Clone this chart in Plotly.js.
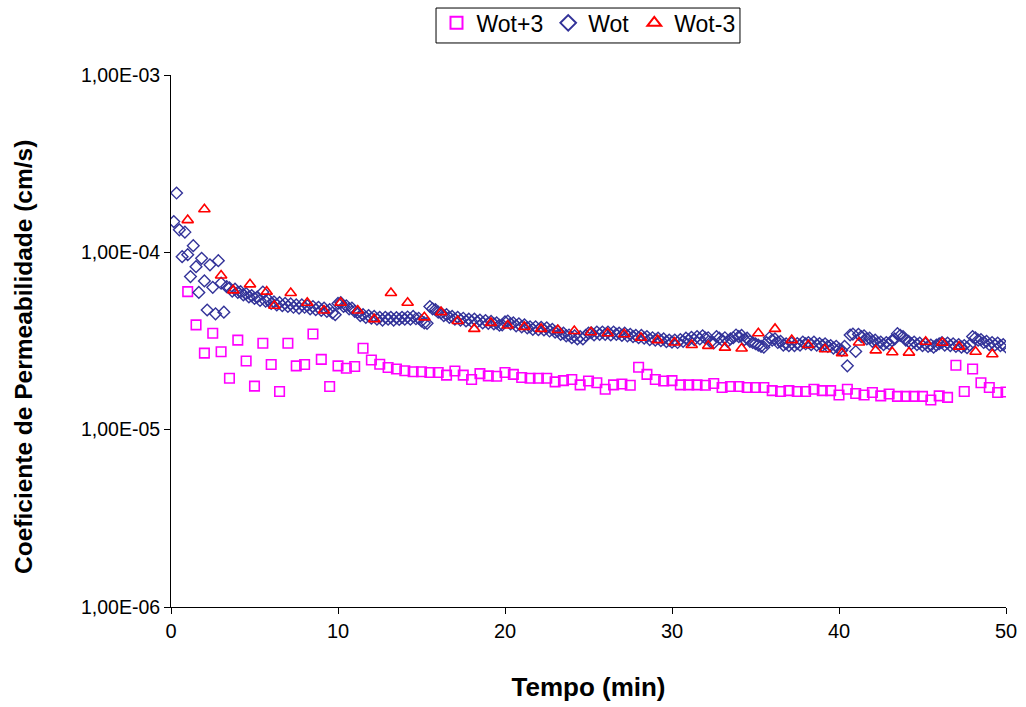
<!DOCTYPE html>
<html>
<head>
<meta charset="utf-8">
<script src="https://cdn.plot.ly/plotly-3.0.1.min.js"></script>
<style>html,body{margin:0;padding:0;background:#fff;}#chart{width:1026px;height:707px;}</style>
</head>
<body>
<div id="chart"></div>
<script>
// Wot+3 : one reading every 0.5 min starting at 1.0 min (cm/s)
const wotPlus3 = [
  6.0e-5,3.9e-5,2.7e-5,3.5e-5,2.75e-5,1.95e-5,3.2e-5,2.44e-5,1.76e-5,3.07e-5,
  2.33e-5,1.64e-5,3.07e-5,2.29e-5,2.33e-5,3.46e-5,2.49e-5,1.75e-5,2.29e-5,
  2.22e-5,2.27e-5,2.88e-5,2.47e-5,2.34e-5,2.24e-5,2.2e-5,2.15e-5,2.12e-5,2.12e-5,
  2.1e-5,2.1e-5,2.03e-5,2.14e-5,2.03e-5,1.92e-5,2.07e-5,2.01e-5,2.0e-5,2.1e-5,
  2.05e-5,1.97e-5,1.95e-5,1.95e-5,1.95e-5,1.86e-5,1.89e-5,1.92e-5,1.79e-5,1.88e-5,
  1.84e-5,1.69e-5,1.79e-5,1.81e-5,1.78e-5,2.25e-5,2.05e-5,1.92e-5,1.88e-5,1.89e-5,
  1.79e-5,1.79e-5,1.79e-5,1.78e-5,1.82e-5,1.73e-5,1.75e-5,1.75e-5,1.73e-5,1.73e-5,
  1.73e-5,1.66e-5,1.64e-5,1.66e-5,1.64e-5,1.64e-5,1.69e-5,1.66e-5,1.66e-5,1.57e-5,
  1.69e-5,1.6e-5,1.57e-5,1.62e-5,1.55e-5,1.59e-5,1.54e-5,1.54e-5,1.54e-5,1.54e-5,
  1.47e-5,1.55e-5,1.52e-5,2.31e-5,1.64e-5,2.2e-5,1.84e-5,1.73e-5,1.62e-5,1.63e-5
];
const wotPlus3Start = 1.0, wotPlus3Step = 0.5;

// Wot : one reading every 10 s (1/6 min) starting at 1/6 min (cm/s), six per minute
const wot = [
  1.49e-4,2.16e-4,1.34e-4,9.45e-5,1.30e-4,9.7e-5,
  7.3e-5,1.09e-4,8.3e-5,5.94e-5,9.25e-5,6.9e-5,
  4.73e-5,8.5e-5,6.35e-5,4.5e-5,8.97e-5,6.7e-5,
  4.6e-5,6.4e-5,6.3e-5,6.05e-5,6.2e-5,5.95e-5,
  6.0e-5,5.75e-5,5.85e-5,5.6e-5,5.7e-5,5.5e-5,
  5.6e-5,5.35e-5,5.97e-5,5.3e-5,5.4e-5,5.15e-5,
  5.25e-5,5.05e-5,5.2e-5,5.0e-5,5.15e-5,4.95e-5,
  5.12e-5,4.9e-5,5.05e-5,4.85e-5,5.05e-5,4.9e-5,
  5.0e-5,4.8e-5,4.95e-5,4.75e-5,4.9e-5,4.7e-5,
  4.85e-5,4.65e-5,4.75e-5,4.55e-5,4.45e-5,5.15e-5,
  5.2e-5,4.95e-5,5.0e-5,4.8e-5,4.85e-5,4.65e-5,
  4.6e-5,4.4e-5,4.45e-5,4.3e-5,4.4e-5,4.25e-5,
  4.35e-5,4.2e-5,4.3e-5,4.15e-5,4.3e-5,4.2e-5,
  4.3e-5,4.15e-5,4.28e-5,4.18e-5,4.3e-5,4.2e-5,
  4.32e-5,4.2e-5,4.35e-5,4.22e-5,4.25e-5,4.1e-5,
  4.0e-5,3.98e-5,4.95e-5,4.8e-5,4.75e-5,4.6e-5,
  4.55e-5,4.4e-5,4.45e-5,4.3e-5,4.35e-5,4.2e-5,
  4.3e-5,4.15e-5,4.25e-5,4.1e-5,4.2e-5,4.08e-5,
  4.2e-5,4.05e-5,4.15e-5,4.0e-5,4.12e-5,3.98e-5,
  4.08e-5,3.95e-5,4.0e-5,3.88e-5,3.9e-5,4.05e-5,
  4.1e-5,3.95e-5,4.0e-5,3.85e-5,3.95e-5,3.8e-5,
  3.9e-5,3.75e-5,3.8e-5,3.68e-5,3.8e-5,3.66e-5,
  3.78e-5,3.65e-5,3.75e-5,3.6e-5,3.68e-5,3.55e-5,
  3.6e-5,3.45e-5,3.5e-5,3.38e-5,3.42e-5,3.3e-5,
  3.38e-5,3.25e-5,3.35e-5,3.25e-5,3.4e-5,3.5e-5,
  3.52e-5,3.42e-5,3.55e-5,3.45e-5,3.55e-5,3.45e-5,
  3.55e-5,3.42e-5,3.55e-5,3.45e-5,3.5e-5,3.4e-5,
  3.5e-5,3.38e-5,3.45e-5,3.35e-5,3.4e-5,3.3e-5,
  3.4e-5,3.28e-5,3.35e-5,3.22e-5,3.3e-5,3.2e-5,
  3.28e-5,3.18e-5,3.25e-5,3.14e-5,3.2e-5,3.12e-5,
  3.2e-5,3.1e-5,3.22e-5,3.15e-5,3.28e-5,3.2e-5,
  3.32e-5,3.22e-5,3.35e-5,3.25e-5,3.38e-5,3.28e-5,
  3.3e-5,3.12e-5,3.08e-5,3.35e-5,3.28e-5,3.2e-5,
  3.3e-5,3.15e-5,3.25e-5,3.3e-5,3.42e-5,3.35e-5,
  3.4e-5,3.22e-5,3.28e-5,3.15e-5,3.1e-5,3.05e-5,
  3.0e-5,2.95e-5,2.92e-5,3.1e-5,3.3e-5,3.2e-5,
  3.25e-5,3.1e-5,3.15e-5,3.0e-5,3.05e-5,2.98e-5,
  3.08e-5,2.98e-5,3.06e-5,3.0e-5,3.12e-5,3.05e-5,
  3.1e-5,3.02e-5,3.12e-5,3.0e-5,3.06e-5,2.98e-5,
  3.05e-5,2.95e-5,2.98e-5,2.88e-5,2.95e-5,2.85e-5,
  2.8e-5,2.95e-5,2.29e-5,3.42e-5,3.46e-5,2.76e-5,
  3.45e-5,3.35e-5,3.38e-5,3.25e-5,3.28e-5,3.15e-5,
  3.2e-5,3.08e-5,3.12e-5,3.02e-5,3.1e-5,3.05e-5,
  3.18e-5,3.25e-5,3.48e-5,3.4e-5,3.35e-5,3.2e-5,
  3.15e-5,3.05e-5,3.12e-5,3.02e-5,3.08e-5,2.98e-5,
  3.05e-5,2.95e-5,3.0e-5,2.92e-5,3.0e-5,3.05e-5,
  3.1e-5,3.0e-5,3.08e-5,2.98e-5,3.05e-5,2.95e-5,
  3.02e-5,2.92e-5,2.98e-5,2.9e-5,3.0e-5,3.35e-5,
  3.3e-5,3.2e-5,3.22e-5,3.1e-5,3.15e-5,3.02e-5,
  3.1e-5,3.0e-5,3.08e-5,2.98e-5,3.02e-5,2.93e-5
];
const wotStart = 1/6, wotStep = 1/6;

// Wot-3
const wotMinus3Time = [
  1.0,2.0,3.0,3.73,4.73,5.73,6.19,7.17,8.16,9.16,10.16,11.18,12.17,13.17,14.17,15.17,
  16.17,17.17,18.16,19.16,20.16,21.16,22.16,23.16,24.15,25.15,26.15,27.14,28.14,29.14,
  30.15,31.18,32.17,33.17,34.17,35.17,36.17,37.17,38.16,39.16,40.18,41.2,42.2,43.19,
  44.19,45.19,46.19,47.19,48.18,49.18
];
const wotMinus3 = [
  1.52e-4,1.75e-4,7.4e-5,6.1e-5,6.6e-5,6.0e-5,5.0e-5,5.9e-5,5.2e-5,4.7e-5,5.2e-5,4.7e-5,
  4.2e-5,5.9e-5,5.2e-5,4.3e-5,4.6e-5,4.1e-5,3.7e-5,4.0e-5,3.87e-5,3.8e-5,3.7e-5,3.65e-5,
  3.6e-5,3.54e-5,3.5e-5,3.45e-5,3.3e-5,3.2e-5,3.1e-5,3.0e-5,2.97e-5,2.9e-5,2.87e-5,3.5e-5,
  3.7e-5,3.2e-5,3.0e-5,2.84e-5,2.7e-5,3.1e-5,2.8e-5,2.73e-5,2.72e-5,3.13e-5,3.09e-5,
  2.94e-5,2.75e-5,2.66e-5
];

const seriesNames = ['Wot+3','Wot','Wot-3'];
const yTickVals = [1e-6,1e-5,1e-4,1e-3];
const yTickText = ['1,00E-06','1,00E-05','1,00E-04','1,00E-03'];
const xTickVals = [0,10,20,30,40,50];
const xTitle = 'Tempo (min)';
const yTitle = 'Coeficiente de Permeabilidade (cm/s)';

const FONT = 'Liberation Sans, Arial, sans-serif';

const traces = [
  {type:'scatter', mode:'markers', name:seriesNames[0], x0:wotPlus3Start, dx:wotPlus3Step, y:wotPlus3,
   marker:{symbol:'square-open', size:9.5, color:'#FF00FF', line:{width:1.6}}},
  {type:'scatter', mode:'markers', name:seriesNames[1], x0:wotStart, dx:wotStep, y:wot,
   marker:{symbol:'diamond-open', size:9, color:'#333399', line:{width:1.4}}},
  {type:'scatter', mode:'markers', name:seriesNames[2], x:wotMinus3Time, y:wotMinus3,
   marker:{symbol:'triangle-up-open', size:10, color:'#FF0000', line:{width:1.6}}}
];

const layout = {
  width:1026, height:707,
  margin:{l:171, r:20, t:75, b:100},
  paper_bgcolor:'#ffffff', plot_bgcolor:'#ffffff',
  font:{family:FONT, size:19, color:'#000'},
  showlegend:true,
  legend:{orientation:'h', x:0.5, xanchor:'center', xref:'paper', y:0.998, yanchor:'top', yref:'container',
    borderwidth:0, bgcolor:'rgba(0,0,0,0)', font:{family:FONT, size:23, color:'#000'},
    itemsizing:'constant', tracegroupgap:0, itemwidth:30},
  shapes:[{type:'rect', xref:'paper', yref:'paper', x0:0.3174, x1:0.6814, y0:1.0602, y1:1.1259,
    line:{color:'#000', width:1}, fillcolor:'rgba(0,0,0,0)', layer:'below'}],
  annotations:[{text:'<b>'+yTitle+'</b>', textangle:-90, xref:'paper', yref:'paper',
    x:-0.176, y:0.47, xanchor:'center', yanchor:'middle', showarrow:false,
    font:{family:FONT, size:24.5, color:'#000'}}],
  xaxis:{range:[0,50], tickvals:xTickVals, ticks:'outside', ticklen:6, tickcolor:'#000',
    showline:true, linecolor:'#000', linewidth:1, showgrid:false, zeroline:false,
    tickfont:{family:FONT, size:20, color:'#000'},
    title:{text:'<b>'+xTitle+'</b>', font:{family:FONT, size:26, color:'#000'}, standoff:36}},
  yaxis:{type:'log', range:[-6,-3], tickvals:yTickVals, ticktext:yTickText, ticks:'outside', ticklen:6,
    tickcolor:'#000', showline:true, linecolor:'#000', linewidth:1, showgrid:false, zeroline:false,
    tickfont:{family:FONT, size:19.5, color:'#000'}}
};

Plotly.newPlot('chart', traces, layout, {displayModeBar:false, staticPlot:true});
</script>
</body>
</html>
